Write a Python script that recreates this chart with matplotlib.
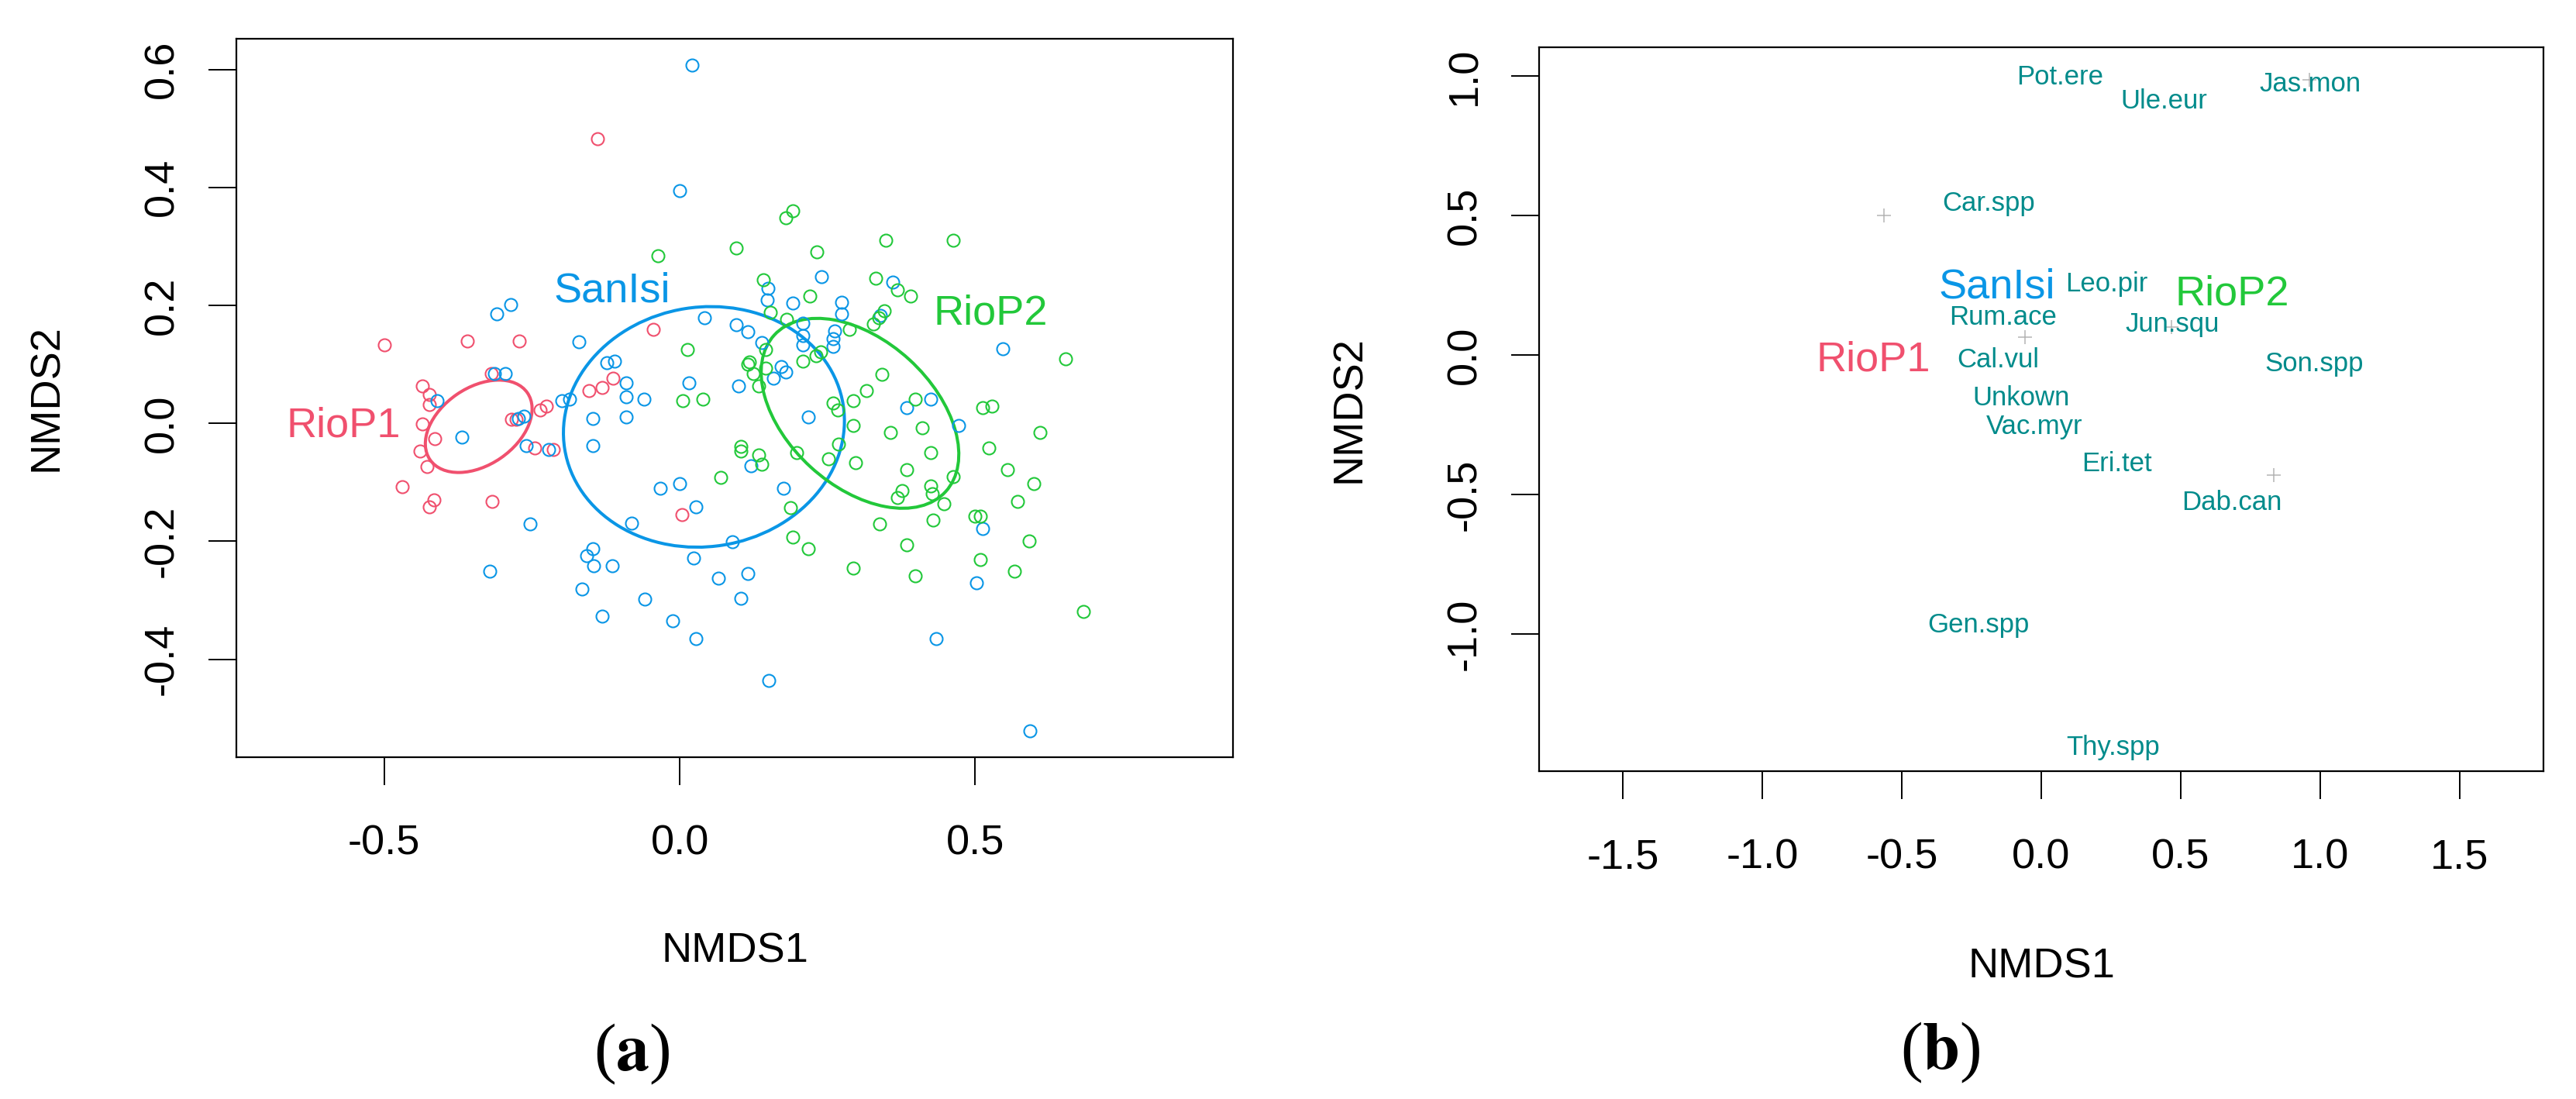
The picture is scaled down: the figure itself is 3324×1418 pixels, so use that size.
# NMDS ordination: (a) site scores with group ellipses, (b) species scores
import matplotlib
matplotlib.use("Agg")
import matplotlib.pyplot as plt
from matplotlib.patches import Ellipse

plt.rcParams['font.family'] = ['Liberation Sans', 'DejaVu Sans']
plt.rcParams['mathtext.fontset'] = 'stix'
plt.rcParams['axes.unicode_minus'] = False

# group colours
col_rio1 = '#F0506E'
col_san = '#0A96E6'
col_rio2 = '#22C83A'
col_spp = '#008B8B'
col_cross = '#B4B4B4'

# ---- panel (a) site scores ----
rio1_x = [-0.499, -0.359, -0.272, -0.045, -0.435, -0.423, -0.424, -0.436, -0.415,
          -0.439, -0.427, -0.469, -0.416, -0.423, -0.317, -0.284, -0.277, -0.236,
          -0.225, -0.245, -0.214, -0.153, -0.131, -0.113, 0.004, -0.319, -0.139]
rio1_y = [0.133, 0.139, 0.139, 0.159, 0.063, 0.049, 0.032, -0.001, -0.026,
          -0.047, -0.073, -0.107, -0.130, -0.142, -0.132, 0.007, 0.007, 0.023,
          0.029, -0.042, -0.044, 0.056, 0.061, 0.076, -0.155, 0.084, 0.483]

san_x = [-0.286, -0.310, -0.171, 0.042, -0.123, -0.110, -0.314, -0.295, -0.411,
         -0.369, -0.273, -0.264, -0.260, -0.221, -0.199, -0.186, -0.090, -0.091,
         -0.061, -0.147, -0.090, -0.147, 0.016, -0.033, 0.000, 0.028, -0.082,
         -0.253, -0.147, -0.158, -0.145, -0.114, 0.024, -0.321, -0.165, -0.059,
         -0.131, -0.012, 0.028, 0.066, 0.115, 0.104, 0.151, 0.089, 0.121,
         0.099, 0.095, 0.115, 0.139, 0.158, 0.021, 0.000, 0.149, 0.148,
         0.240, 0.191, 0.274, 0.274, 0.361, 0.340, 0.209, 0.209, 0.209,
         0.262, 0.260, 0.260, 0.172, 0.179, 0.217, 0.384, 0.425, 0.472,
         0.547, 0.175, 0.512, 0.502, 0.434, 0.593]
san_y = [0.201, 0.186, 0.138, 0.179, 0.103, 0.105, 0.084, 0.084, 0.038,
         -0.024, 0.008, 0.012, -0.038, -0.045, 0.038, 0.041, 0.069, 0.045,
         0.041, 0.008, 0.011, -0.038, 0.068, -0.110, -0.102, -0.141, -0.169,
         -0.171, -0.212, -0.224, -0.241, -0.242, -0.228, -0.251, -0.281, -0.298,
         -0.327, -0.335, -0.365, -0.262, -0.254, -0.296, -0.436, -0.201, -0.072,
         0.064, 0.167, 0.155, 0.137, 0.076, 0.607, 0.395, 0.229, 0.209,
         0.249, 0.204, 0.205, 0.186, 0.240, 0.183, 0.170, 0.149, 0.133,
         0.157, 0.143, 0.130, 0.096, 0.087, 0.011, 0.026, 0.041, -0.003,
         0.126, -0.110, -0.178, -0.271, -0.365, -0.521]

rio2_x = [-0.037, 0.096, 0.142, 0.013, 0.005, 0.039, 0.115, 0.124, 0.145, 0.133,
          0.118, 0.104, 0.104, 0.133, 0.139, 0.069, 0.191, 0.179, 0.232, 0.349,
          0.463, 0.220, 0.331, 0.368, 0.391, 0.153, 0.181, 0.346, 0.337, 0.328,
          0.287, 0.146, 0.208, 0.238, 0.231, 0.342, 0.316, 0.293, 0.399, 0.259,
          0.267, 0.293, 0.357, 0.410, 0.512, 0.528, 0.610, 0.653, 0.269, 0.198,
          0.252, 0.297, 0.425, 0.523, 0.384, 0.554, 0.463, 0.599, 0.425, 0.427,
          0.376, 0.368, 0.572, 0.447, 0.187, 0.499, 0.509, 0.428, 0.338, 0.591,
          0.191, 0.217, 0.384, 0.509, 0.293, 0.566, 0.399, 0.683]
rio2_y = [0.284, 0.297, 0.244, 0.125, 0.038, 0.041, 0.100, 0.085, 0.093, 0.063,
          0.104, -0.039, -0.047, -0.054, -0.069, -0.092, 0.360, 0.349, 0.291, 0.310,
          0.310, 0.216, 0.246, 0.226, 0.216, 0.188, 0.176, 0.191, 0.179, 0.168,
          0.159, 0.125, 0.105, 0.121, 0.115, 0.083, 0.056, 0.038, 0.041, 0.034,
          0.022, -0.003, -0.016, -0.007, 0.026, 0.029, -0.015, 0.109, -0.035, -0.049,
          -0.060, -0.067, -0.049, -0.042, -0.079, -0.079, -0.091, -0.102, -0.106, -0.119,
          -0.114, -0.126, -0.132, -0.136, -0.143, -0.158, -0.158, -0.164, -0.171, -0.200,
          -0.193, -0.213, -0.206, -0.231, -0.246, -0.251, -0.259, -0.319]

# group ellipses: centre x, centre y, width, height, angle (deg)
ell_rio1 = (-0.340, -0.005, 0.200, 0.131, 34.6)
ell_san = (0.041, -0.006, 0.477, 0.406, 9.0)
ell_rio2 = (0.305, 0.017, 0.393, 0.247, -42.5)

# group label positions in panel (a)
lab_a = {'RioP1': (-0.569, -0.004), 'SanIsi': (-0.115, 0.224), 'RioP2': (0.526, 0.186)}

# ---- panel (b) species scores ----
spp_names = ['Pot.ere', 'Ule.eur', 'Jas.mon', 'Car.spp', 'Leo.pir', 'Rum.ace', 'Jun.squ',
             'Cal.vul', 'Son.spp', 'Unkown', 'Vac.myr', 'Eri.tet', 'Dab.can', 'Gen.spp',
             'Thy.spp']
spp_x = [0.066, 0.439, 0.965, -0.188, 0.235, -0.138, 0.471, -0.154, 0.979, -0.073,
         -0.025, 0.270, 0.683, -0.226, 0.257]
spp_y = [0.996, 0.910, 0.970, 0.542, 0.254, 0.135, 0.111, -0.017, -0.033, -0.155,
         -0.258, -0.390, -0.529, -0.969, -1.406]
cross_x = [-0.564, -0.059, 0.467, 0.962, 0.834]
cross_y = [0.499, 0.063, 0.100, 0.986, -0.431]
lab_b = {'RioP1': (-0.601, -0.017), 'SanIsi': (-0.159, 0.244), 'RioP2': (0.683, 0.217)}

group_cols = {'RioP1': col_rio1, 'SanIsi': col_san, 'RioP2': col_rio2}

W, H = 3324, 1418
fig = plt.figure(figsize=(W / 100, H / 100), dpi=100)

def px_axes(l, t, r, b):
    return fig.add_axes([l / W, 1 - b / H, (r - l) / W, (b - t) / H])

ax1 = px_axes(305, 50, 1591, 977)
ax2 = px_axes(1986, 61, 3282, 995)

# panel (a)
for xs, ys, c in [(rio1_x, rio1_y, col_rio1), (san_x, san_y, col_san), (rio2_x, rio2_y, col_rio2)]:
    ax1.plot(xs, ys, 'o', ms=11.5, mfc='none', mec=c, mew=1.5, ls='none')
for (cx, cy, w, h, a), c in [(ell_rio1, col_rio1), (ell_san, col_san), (ell_rio2, col_rio2)]:
    ax1.add_patch(Ellipse((cx, cy), w, h, angle=a, fill=False, ec=c, lw=2.9))
for name, (x, y) in lab_a.items():
    ax1.text(x, y, name, color=group_cols[name], fontsize=39, ha='center', va='center')
ax1.set_xlim(-0.750, 0.936)
ax1.set_ylim(-0.566, 0.652)
ax1.set_xticks([-0.5, 0.0, 0.5])
ax1.set_yticks([-0.4, -0.2, 0.0, 0.2, 0.4, 0.6])
ax1.xaxis.set_major_formatter(matplotlib.ticker.FormatStrFormatter('%.1f'))
ax1.yaxis.set_major_formatter(matplotlib.ticker.FormatStrFormatter('%.1f'))

# panel (b)
ax2.plot(cross_x, cross_y, '+', ms=13, mew=1.1, color=col_cross, ls='none')
for name, x, y in zip(spp_names, spp_x, spp_y):
    ax2.text(x, y, name, color=col_spp, fontsize=25, ha='center', va='center')
for name, (x, y) in lab_b.items():
    ax2.text(x, y, name, color=group_cols[name], fontsize=39, ha='center', va='center')
ax2.set_xlim(-1.8, 1.8)
ax2.set_ylim(-1.492, 1.103)
ax2.set_xticks([-1.5, -1.0, -0.5, 0.0, 0.5, 1.0, 1.5])
ax2.set_yticks([-1.0, -0.5, 0.0, 0.5, 1.0])
ax2.xaxis.set_major_formatter(matplotlib.ticker.FormatStrFormatter('%.1f'))
ax2.yaxis.set_major_formatter(matplotlib.ticker.FormatStrFormatter('%.1f'))

for ax in (ax1, ax2):
    for s in ax.spines.values():
        s.set_linewidth(1.6)
    ax.tick_params(direction='out', length=26, width=1.4, labelsize=39)
    ax.tick_params(axis='x', pad=36)
    ax.tick_params(axis='y', pad=25)
    for lab in ax.get_yticklabels():
        lab.set_rotation(90)
        lab.set_va('center')

# axis titles and panel letters
fig.text(948 / W, 1 - 1228 / H, 'NMDS1', fontsize=39, ha='center', va='center')
fig.text(60 / W, 1 - 513 / H, 'NMDS2', fontsize=39, ha='center', va='center', rotation=90)
fig.text(2634 / W, 1 - 1248 / H, 'NMDS1', fontsize=39, ha='center', va='center')
fig.text(1741 / W, 1 - 528 / H, 'NMDS2', fontsize=39, ha='center', va='center', rotation=90)
fig.text(815 / W, 1 - 1360 / H, r'($\mathbf{a}$)', fontsize=62, ha='center', va='center',
         family='Liberation Serif')
fig.text(2504 / W, 1 - 1358 / H, r'($\mathbf{b}$)', fontsize=62, ha='center', va='center',
         family='Liberation Serif')

fig.savefig('out.png', dpi=100, facecolor='white')
